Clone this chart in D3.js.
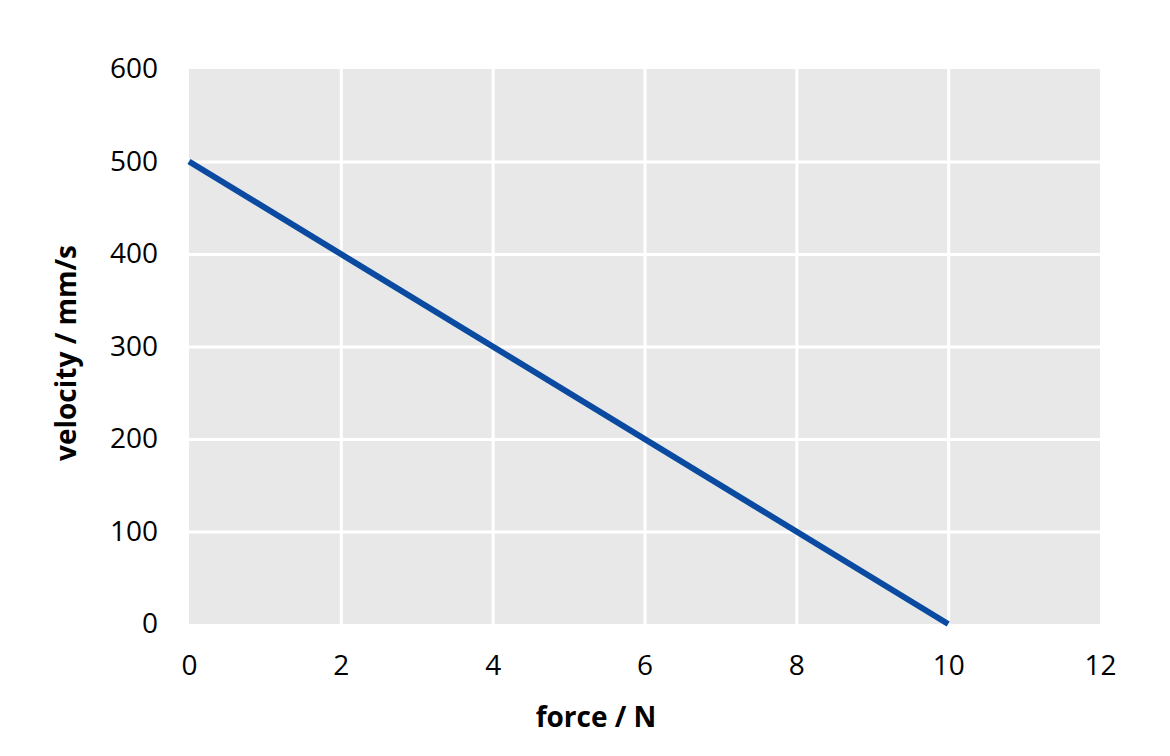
<!DOCTYPE html>
<html><head><meta charset="utf-8">
<script src="https://cdn.jsdelivr.net/npm/d3@7"></script>
<style>body{margin:0;background:#fff}svg{display:block}text{font-family:"Open Sans",sans-serif;fill:#000}</style>
</head><body><svg id="c" width="1170" height="756"></svg>
<script>
const force = [0, 10];
const velocity = [500, 0];
const xTicks = [0, 2, 4, 6, 8, 10, 12];
const yTicks = [0, 100, 200, 300, 400, 500, 600];
const xTitle = "force / N";
const yTitle = "velocity / mm/s";

const svg = d3.select("#c");
const L = 189, R = 1100, T = 69, B = 624;
const x = d3.scaleLinear().domain([0, 12]).range([L, R]);
const y = d3.scaleLinear().domain([0, 600]).range([B, T]);

svg.append("rect").attr("x", L).attr("y", T).attr("width", R - L).attr("height", B - T).attr("fill", "#e8e8e8");

const gx = svg.append("g").attr("transform", `translate(0,${B})`)
  .call(d3.axisBottom(x).tickValues(xTicks).tickSize(-(B - T)).tickPadding(31));
gx.select(".domain").remove();
gx.selectAll("line").attr("stroke", "#fff").attr("stroke-width", 3);
gx.selectAll("text").attr("font-size", 28).attr("fill", "#000");

const gy = svg.append("g").attr("transform", `translate(${L},0)`)
  .call(d3.axisLeft(y).tickValues(yTicks).tickSize(-(R - L)).tickPadding(31));
gy.select(".domain").remove();
gy.selectAll("line").attr("stroke", "#fff").attr("stroke-width", 3);
gy.selectAll("text").attr("font-size", 28).attr("fill", "#000");
gx.selectAll(".tick").filter(d => d === 0 || d === 12).select("line").remove();
gy.selectAll(".tick").filter(d => d === 0 || d === 600).select("line").remove();

const pts = force.map((f, i) => [f, velocity[i]]);
svg.append("path").datum(pts)
  .attr("d", d3.line().x(d => x(d[0])).y(d => y(d[1])))
  .attr("fill", "none").attr("stroke", "#0a4aa0").attr("stroke-width", 6);

svg.append("text").attr("x", 596).attr("y", 716).attr("text-anchor", "middle")
  .attr("dominant-baseline", "central").attr("font-size", 28).attr("font-weight", "bold").text(xTitle);
svg.append("text").attr("transform", "translate(65,353) rotate(-90)").attr("text-anchor", "middle")
  .attr("dominant-baseline", "central").attr("font-size", 28).attr("font-weight", "bold").text(yTitle);
</script></body></html>
